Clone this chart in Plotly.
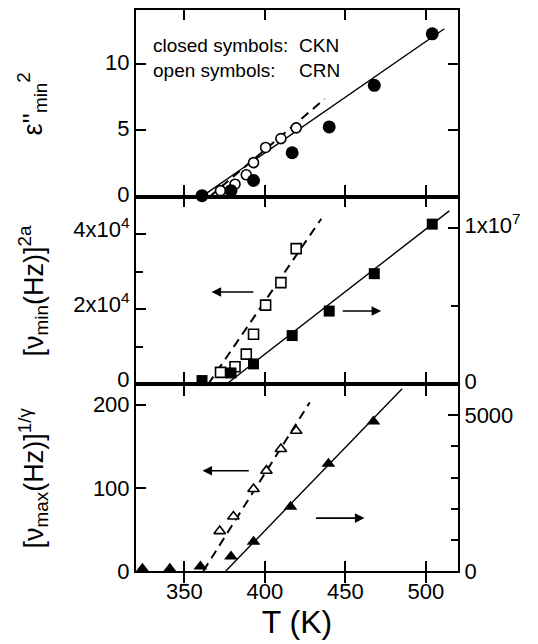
import plotly.graph_objects as go

# ---- data -------------------------------------------------------------
# temperatures (K) of the CKN and CRN points
T_ckn = [361, 379, 393, 417, 440, 468, 504]
T_crn = [372.5, 381.5, 388.5, 393, 400.5, 410, 419.5]

# top panel: eps''_min squared
eps2_ckn = [0.05, 0.43, 1.2, 3.3, 5.25, 8.4, 12.3]
eps2_crn = [0.43, 0.92, 1.63, 2.55, 3.7, 4.37, 5.18]

# middle panel: [nu_min (Hz)]^(2a)
numin_ckn = [2.2e5, 7.1e5, 1.29e6, 3.11e6, 4.68e6, 7.08e6, 1.026e7]   # right axis
numin_crn = [3.1e3, 4.6e3, 8.0e3, 1.33e4, 2.11e4, 2.71e4, 3.62e4]     # left axis

# bottom panel: [nu_max (Hz)]^(1/gamma)
T_ckn_max = [324, 341, 360, 379, 393, 416, 439.5, 467.5]
numax_ckn = [70, 70, 145, 463, 942, 2060, 3440, 4800]                 # right axis
T_crn_max = [372, 380.5, 393, 401, 410, 419.5]
numax_crn = [48, 65.5, 98.7, 120.7, 146.8, 168.8]                     # left axis

# linear fits (end points)
fit_eps_ckn_T, fit_eps_ckn = [361, 511.5], [0, 12.68]
fit_eps_crn_T, fit_eps_crn = [366, 437.2], [0, 7.37]
fit_numin_ckn_T, fit_numin_ckn = [376.3, 514.6], [0, 1.111e7]
fit_numin_crn_T, fit_numin_crn = [364.9, 435.1], [0, 4.42e4]
fit_numax_ckn_T, fit_numax_ckn = [375.8, 485.3], [0, 5847]
fit_numax_crn_T, fit_numax_crn = [361.8, 427.9], [0, 202.8]

x_ticks = [350, 400, 450, 500]

# ---- styling ----------------------------------------------------------
FONT = "Liberation Sans, Arial, sans-serif"
BLACK = "black"
LW = 2

fig = go.Figure()


def marker_trace(x, y, symbol, size, filled, xa, ya):
    # open symbols are drawn as white-filled shapes with a black outline
    fig.add_trace(go.Scatter(
        x=x, y=y, mode="markers", xaxis=xa, yaxis=ya, cliponaxis=False,
        marker=dict(symbol=symbol, size=size,
                    color=BLACK if filled else "white",
                    line=dict(color=BLACK, width=0 if filled else 1.6)),
        showlegend=False, hoverinfo="skip"))


def fit_trace(x, y, dashed, xa, ya):
    fig.add_trace(go.Scatter(
        x=x, y=y, mode="lines", xaxis=xa, yaxis=ya,
        line=dict(color=BLACK, width=2 if dashed else 1.4,
                  dash="9px,6px" if dashed else "solid"),
        showlegend=False, hoverinfo="skip"))


# top panel
fit_trace(fit_eps_ckn_T, fit_eps_ckn, False, "x", "y")
fit_trace(fit_eps_crn_T, fit_eps_crn, True, "x", "y")
marker_trace(T_crn, eps2_crn, "circle", 10, False, "x", "y")
marker_trace(T_ckn, eps2_ckn, "circle", 13, True, "x", "y")

# middle panel
fit_trace(fit_numin_crn_T, fit_numin_crn, True, "x2", "y2")
marker_trace(T_crn, numin_crn, "square", 10, False, "x2", "y2")
fit_trace(fit_numin_ckn_T, fit_numin_ckn, False, "x2", "y4")
marker_trace(T_ckn, numin_ckn, "square", 11, True, "x2", "y4")

# bottom panel
fit_trace(fit_numax_crn_T, fit_numax_crn, True, "x3", "y3")
marker_trace(T_crn_max, numax_crn, "triangle-up", 10, False, "x3", "y3")
fit_trace(fit_numax_ckn_T, fit_numax_ckn, False, "x3", "y5")
marker_trace(T_ckn_max, numax_ckn, "triangle-up", 12, True, "x3", "y5")

tickfont = dict(family=FONT, size=22, color=BLACK)
common = dict(showline=True, linecolor=BLACK, linewidth=LW, ticks="inside",
              ticklen=10, tickwidth=LW, tickcolor=BLACK, showgrid=False,
              zeroline=False, tickfont=tickfont)

xcommon = dict(common, range=[320, 520], tickmode="array", tickvals=x_ticks,
               mirror="allticks")

minor_style = dict(tickmode="array", ticks="inside", ticklen=7,
                   tickwidth=LW, tickcolor=BLACK)

fig.update_layout(
    width=538, height=644,
    margin=dict(l=136, r=80, t=8, b=73),
    paper_bgcolor="white", plot_bgcolor="white",
    font=dict(family=FONT, color=BLACK),
    xaxis=dict(xcommon, anchor="y", matches="x3", showticklabels=False),
    xaxis2=dict(xcommon, anchor="y2", matches="x3", showticklabels=False),
    xaxis3=dict(xcommon, anchor="y3",
                title=dict(text="T (K)", font=dict(family=FONT, size=32),
                           standoff=4)),
    yaxis=dict(common, domain=[2 / 3, 1], anchor="x", range=[-0.05, 14.1],
               tickmode="array", tickvals=[0, 5, 10], mirror="allticks",
               ticklabelshift=-2),
    yaxis2=dict(common, domain=[1 / 3, 2 / 3], anchor="x2", range=[0, 5e4],
                tickmode="array", tickvals=[0, 2e4, 4e4],
                ticktext=["0", "2x10<sup>4</sup>", "4x10<sup>4</sup>"],
                minor=dict(minor_style, tickvals=[1e4, 3e4]),
                mirror=True, ticklabelshift=-5),
    yaxis4=dict(common, overlaying="y2", side="right", anchor="x2",
                range=[0, 1.2e7], tickmode="array", tickvals=[0, 1e7],
                ticktext=["0", "1x10<sup>7</sup>"],
                minor=dict(minor_style, tickvals=[5e6]),
                ticklabelshift=-3),
    yaxis3=dict(common, domain=[0, 1 / 3], anchor="x3", range=[0, 225],
                tickmode="array", tickvals=[0, 100, 200], mirror=True),
    yaxis5=dict(common, overlaying="y3", side="right", anchor="x3",
                range=[0, 6000], tickmode="array", tickvals=[0, 5000],
                minor=dict(minor_style, tickvals=[1000, 2000, 3000, 4000])),
)

# y-axis titles, rotated
title_font = dict(family=FONT, size=27, color=BLACK)
y_titles = [
    ("ε''<sub>min</sub><sup>2</sup>", 5 / 6),
    ("[ν<sub>min</sub>(Hz)]<sup>2a</sup>", 0.5),
    ("[ν<sub>max</sub>(Hz)]<sup>1/γ</sup>", 1 / 6),
]
for text, yc in y_titles:
    fig.add_annotation(text=text, xref="paper", yref="paper", x=-0.32, y=yc,
                       xanchor="center", yanchor="middle", textangle=-90,
                       showarrow=False, font=title_font)

# symbol key in the top panel
key_font = dict(family=FONT, size=19, color=BLACK)
for text, xp, yp in [("closed symbols:", 0.048, 0.937),
                     ("CKN", 0.499, 0.937),
                     ("open symbols:", 0.048, 0.893),
                     ("CRN", 0.499, 0.893)]:
    fig.add_annotation(text=text, xref="paper", yref="paper", x=xp, y=yp,
                       xanchor="left", yanchor="middle", showarrow=False,
                       font=key_font)

# arrows pointing to the axis each data set belongs to
arrows = [
    ("x2", "y2", 393.8, 366.9, 2.46e4),
    ("x2", "y4", 447.5, 472.3, 4.68e6),
    ("x3", "y3", 391.0, 361.3, 120.7),
    ("x3", "y5", 430.9, 461.9, 1698),
]
for xa, ya, x_tail, x_head, yv in arrows:
    fig.add_annotation(x=x_head, y=yv, ax=x_tail, ay=yv, xref=xa, yref=ya,
                       axref=xa, ayref=ya, text="", showarrow=True,
                       arrowhead=2, arrowsize=1.2, arrowwidth=1.6,
                       arrowcolor=BLACK)

fig.write_html("out.html")
